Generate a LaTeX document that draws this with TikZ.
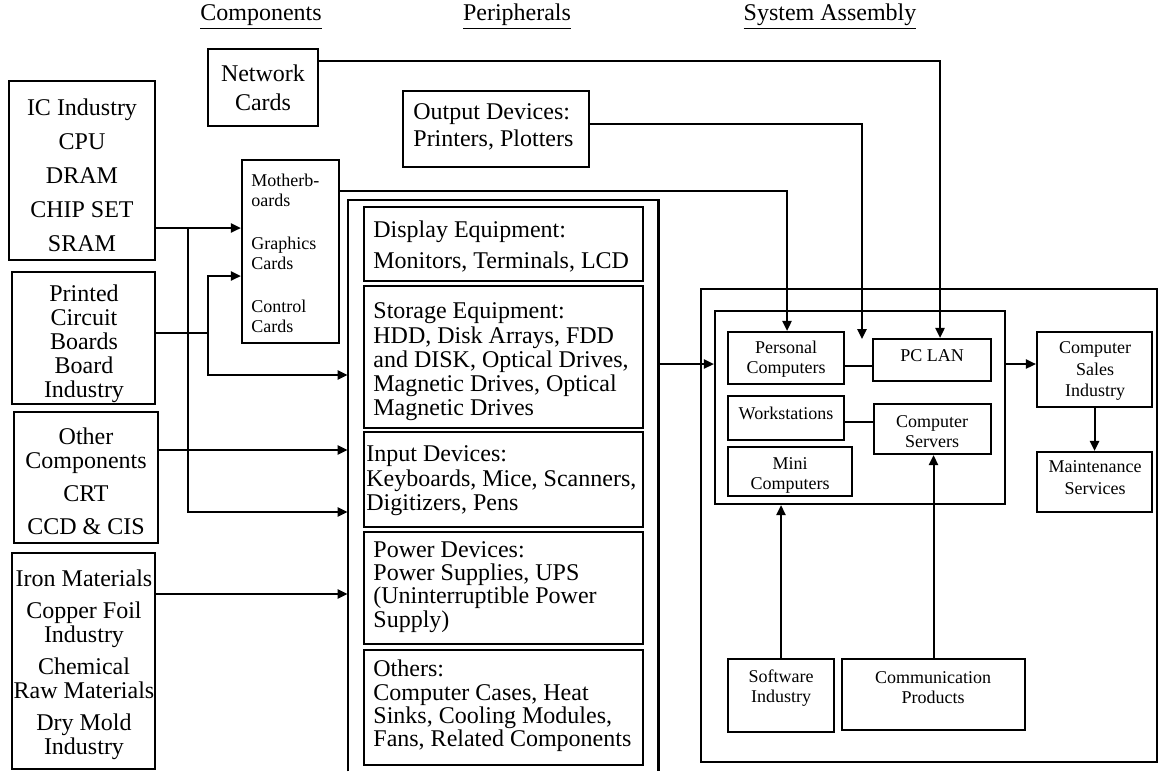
\documentclass[tikz,border=0pt]{standalone}
\usepackage{fontspec}
\setmainfont{Liberation Serif}
\usetikzlibrary{arrows.meta,fit}
\newcommand{\setfs}[2]{\fontsize{#1}{#2}\selectfont}

\begin{document}
\begin{tikzpicture}[x=0.5pt,y=-0.5pt,
  box/.style={draw, line width=1.1pt, inner sep=0pt},
  frame/.style={draw=none, inner sep=0pt},
  conn/.style={line width=1pt},
  arr/.style={conn, -{Triangle[length=5pt,width=4.6pt]}},
  big/.style={inner sep=0pt, align=center, font=\setfs{12}{12}},
  bigl/.style={inner sep=0pt, align=left, anchor=west, font=\setfs{12}{12}},
  smalll/.style={inner sep=0pt, align=left, anchor=west, font=\setfs{9}{10}},
  small/.style={inner sep=0pt, align=center, font=\setfs{9}{10}},
  head/.style={inner sep=0pt, font=\setfs{12}{12}},
]
\useasboundingbox (0,0) rectangle (1160,771);

% column headings
\node[head] (hcomp) at (261,17) {\underline{Components}};
\node[head] (hper) at (517,17) {\underline{Peripherals}};
\node[head] (hsys) at (830,17) {\underline{System Assembly}};

% components
\node[box, fit={(208,49) (318,126)}] (net) {};
\node[big, font=\setfs{12}{14.5}] (nettxt) at (263,88) {Network\\Cards};

\node[box, fit={(9,81) (155,260)}] (ic) {};
\node[big, font=\setfs{12}{17}] (ictxt) at (82,175) {IC Industry\\CPU\\DRAM\\CHIP SET\\SRAM};

\node[box, fit={(12,272) (155,404)}] (pcb) {};
\node[big] (pcbtxt) at (84,344) {Printed\\Circuit\\Boards\\Board\\Industry};

\node[box, fit={(14,412) (158,543)}] (oth) {};
\node[big] (othtxt) at (86,481) {Other\\Components\\[4.5pt]CRT\\[4.5pt]CCD \& CIS};

\node[box, fit={(12,553) (155,769)}] (iron) {};
\node[big] (irontxt) at (84,665) {Iron Materials\\[4pt]Copper Foil\\Industry\\[4pt]Chemical\\Raw Materials\\[4pt]Dry Mold\\Industry};

\node[box, fit={(242,160) (339,343)}] (mb) {};
\node[smalll] (mbtxt) at (251,253) {Motherb-\\oards\\[11.5pt]Graphics\\Cards\\[11.5pt]Control\\Cards};

% peripherals
\node[box, fit={(403,91) (589,167)}] (out) {};
\node[bigl, font=\setfs{12}{13.5}] (outtxt) at (413,127) {Output Devices:\\Printers, Plotters};

\node[frame, fit={(348,200) (658,771)}] (periph) {};
\draw[line width=1.1pt] (periph.south west) -- (periph.north west) -- (periph.north east) -- (periph.south east);

\node[box, fit={(364,207) (643,281)}] (disp) {};
\node[bigl, font=\setfs{12}{15.5}] (disptxt) at (373,247) {Display Equipment:\\Monitors, Terminals, LCD};

\node[box, fit={(364,286) (643,428)}] (stor) {};
\node[bigl, font=\setfs{12}{12.1}] (stortxt) at (373,362) {Storage Equipment:\\HDD, Disk Arrays, FDD\\and DISK, Optical Drives,\\Magnetic Drives, Optical\\Magnetic Drives};

\node[box, fit={(364,432) (643,527)}] (inp) {};
\node[bigl, font=\setfs{12}{12.2}] (inptxt) at (366,481) {Input Devices:\\Keyboards, Mice, Scanners,\\Digitizers, Pens};

\node[box, fit={(364,532) (643,644)}] (pow) {};
\node[bigl, font=\setfs{12}{11.6}] (powtxt) at (373,587) {Power Devices:\\Power Supplies, UPS\\(Uninterruptible Power\\Supply)};

\node[box, fit={(364,650) (643,765)}] (oths) {};
\node[bigl, font=\setfs{12}{11.7}] (othstxt) at (373,706) {Others:\\Computer Cases, Heat\\Sinks, Cooling Modules,\\Fans, Related Components};

% system assembly
\node[box, fit={(701,289) (1157,762)}] (asm) {};
\node[box, fit={(715,311) (1005,504)}] (sys) {};

\node[box, fit={(728,332) (844,384)}] (pc) {};
\node[small] (pctxt) at (786,359) {Personal\\Computers};
\node[box, fit={(873,339) (991,381)}] (lan) {};
\node[small] (lantxt) at (932,356) {PC LAN};
\node[box, fit={(728,396) (844,440)}] (ws) {};
\node[small] (wstxt) at (786,413) {Workstations};
\node[box, fit={(874,404) (991,454)}] (srv) {};
\node[small] (srvtxt) at (932,432) {Computer\\Servers};
\node[box, fit={(728,447) (852,496)}] (mini) {};
\node[small] (minitxt) at (790,475) {Mini\\Computers};

\node[box, fit={(1037,332) (1152,407)}] (sales) {};
\node[small, font=\setfs{9}{10.75}] (salestxt) at (1095,371) {Computer\\Sales\\Industry};
\node[box, fit={(1037,452) (1152,512)}] (maint) {};
\node[small, font=\setfs{9}{11}] (mainttxt) at (1095,478) {Maintenance\\Services};

\node[box, fit={(728,659) (834,732)}] (sw) {};
\node[small] (swtxt) at (781,688) {Software\\Industry};
\node[box, fit={(842,659) (1025,730)}] (comm) {};
\node[small] (commtxt) at (933,688) {Communication\\Products};

% connectors
\coordinate (a1) at (188,228);
\coordinate (a2) at (188,512);
\draw[arr] (ic.east |- a1) -- (mb.west |- a1);
\draw[arr] (a1) -- (a2) -- (periph.west |- a2);

\coordinate (b1) at (208,333);
\coordinate (b2) at (208,276);
\coordinate (b3) at (208,375);
\draw[conn] (pcb.east |- b1) -- (b1);
\draw[arr] (b1) -- (b2) -- (mb.west |- b2);
\draw[arr] (b1) -- (b3) -- (periph.west |- b3);

\coordinate (o1) at (0,450);
\draw[arr] (oth.east |- o1) -- (periph.west |- o1);
\coordinate (i1) at (0,594);
\draw[arr] (iron.east |- i1) -- (periph.west |- i1);

\coordinate (n1) at (940,61);
\draw[arr] (net.east |- n1) -- (n1) -- (n1 |- lan.north);
\coordinate (p1) at (862,124);
\coordinate (p2) at (862,339);
\draw[arr] (out.east |- p1) -- (p1) -- (p2);
\coordinate (m1) at (787,191);
\draw[arr] (mb.east |- m1) -- (m1) -- (m1 |- pc.north);

\coordinate (s1) at (0,364);
\draw[arr] (periph.east |- s1) -- (sys.west |- s1);
\draw[arr] (sys.east |- s1) -- (sales.west |- s1);
\draw[arr] (sales.south) -- (maint.north);

\coordinate (l1) at (0,366);
\draw[conn] (pc.east |- l1) -- (lan.west |- l1);
\coordinate (w1) at (0,422);
\draw[conn] (ws.east |- w1) -- (srv.west |- w1);

\draw[arr] (sw.north) -- (sw.north |- sys.south);
\draw[arr] (comm.north) -- (comm.north |- srv.south);
\end{tikzpicture}
\end{document}
